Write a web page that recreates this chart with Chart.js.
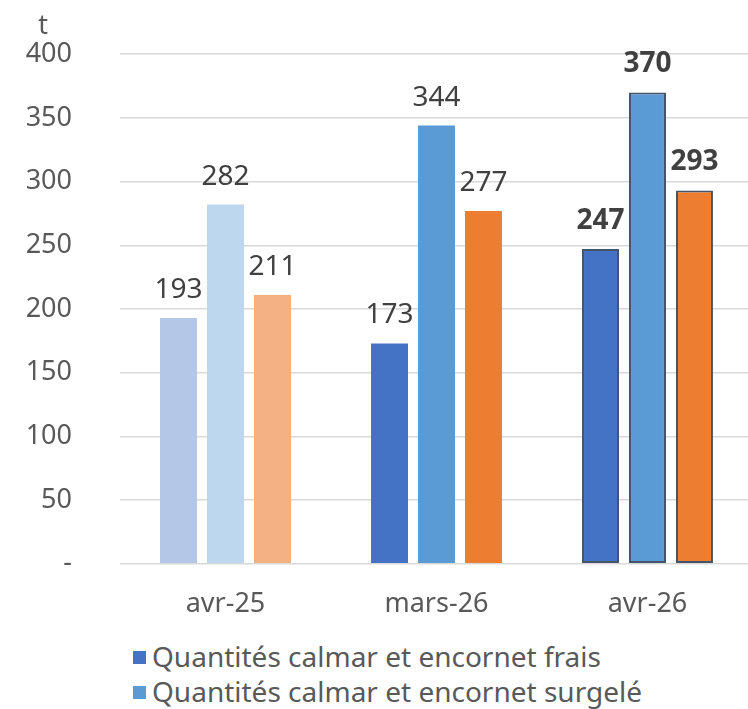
<!DOCTYPE html>
<html>
<head>
<meta charset="utf-8">
<script src="https://cdn.jsdelivr.net/npm/chart.js@4/dist/chart.umd.min.js"></script>
<style>
body{margin:0;background:#fff;overflow:hidden;width:748px;height:709px}
#wrap{position:absolute;left:0;top:-10px;width:753px;height:638px}
#legend{position:absolute;left:133px;top:639px;font-family:"Noto Sans",sans-serif;font-size:28px;color:#595959}
.item{height:35px;line-height:35px;white-space:nowrap}
.sw{display:inline-block;width:13px;height:13px;margin-right:6px;vertical-align:middle;position:relative;top:-2px}
</style>
</head>
<body>
<div id="wrap"><canvas id="c"></canvas></div>
<div id="legend"></div>
<script>
let months=["avr-25","mars-26","avr-26"]
let frais=[193,173,247]
let surgele=[282,344,370]
let autre=[211,277,293]
let seriesNames=["Quantités calmar et encornet frais","Quantités calmar et encornet surgelé","Quantités calmar et encornet total"]

let colFrais=["#B4C7E7","#4472C4","#4472C4"]
let colSurg=["#BDD7EE","#5B9BD5","#5B9BD5"]
let colAutre=["#F4B183","#ED7D31","#ED7D31"]
let borderW=[0,0,2]
let fontFam="'Noto Sans', sans-serif"

// value labels above bars + the "t" unit
let labelsPlugin={
id:"vals",
afterDatasetsDraw(chart){
let ctx=chart.ctx
ctx.save()
ctx.textAlign="center"
ctx.textBaseline="middle"
ctx.fillStyle="#404040"
chart.data.datasets.forEach((ds,i)=>{
chart.getDatasetMeta(i).data.forEach((bar,j)=>{
ctx.font=(j==2?"bold ":"")+"28px "+fontFam
ctx.fillText(ds.data[j],bar.x,bar.y-28)
})
})
ctx.fillStyle="#595959"
ctx.font="27px "+fontFam
ctx.fillText("t",43,chart.scales.y.top-28)
ctx.restore()
}
}

new Chart(document.getElementById("c"),{
type:"bar",
data:{
labels:months,
datasets:[
{label:seriesNames[0],data:frais,backgroundColor:colFrais,borderColor:"#44546A",borderWidth:borderW,borderSkipped:false},
{label:seriesNames[1],data:surgele,backgroundColor:colSurg,borderColor:"#44546A",borderWidth:borderW,borderSkipped:false},
{label:seriesNames[2],data:autre,backgroundColor:colAutre,borderColor:"#44546A",borderWidth:borderW,borderSkipped:false}
]
},
options:{
responsive:true,
maintainAspectRatio:false,
animation:false,
categoryPercentage:0.668,
barPercentage:0.787,
layout:{padding:{top:42,bottom:8,left:0,right:0}},
plugins:{legend:{display:false},tooltip:{enabled:false}},
scales:{
x:{
afterFit(s){s.height=54},
grid:{display:false,drawTicks:false},
border:{display:false},
ticks:{padding:24,color:"#595959",font:{family:fontFam,size:27}}
},
y:{
min:0,max:400,
afterFit(s){s.width=120},
grid:{color:"#D9D9D9",lineWidth:1.5,drawTicks:false},
border:{display:false},
ticks:{stepSize:50,padding:48,color:"#595959",font:{family:fontFam,size:27},
callback:v=>v==0?"-":v}
}
}
},
plugins:[labelsPlugin]
})

let leg=document.getElementById("legend")
let legCols=["#4472C4","#5B9BD5","#ED7D31"]
seriesNames.forEach((n,i)=>{
let d=document.createElement("div")
d.className="item"
d.innerHTML='<span class="sw" style="background:'+legCols[i]+'"></span>'+n
leg.appendChild(d)
})
</script>
</body>
</html>
